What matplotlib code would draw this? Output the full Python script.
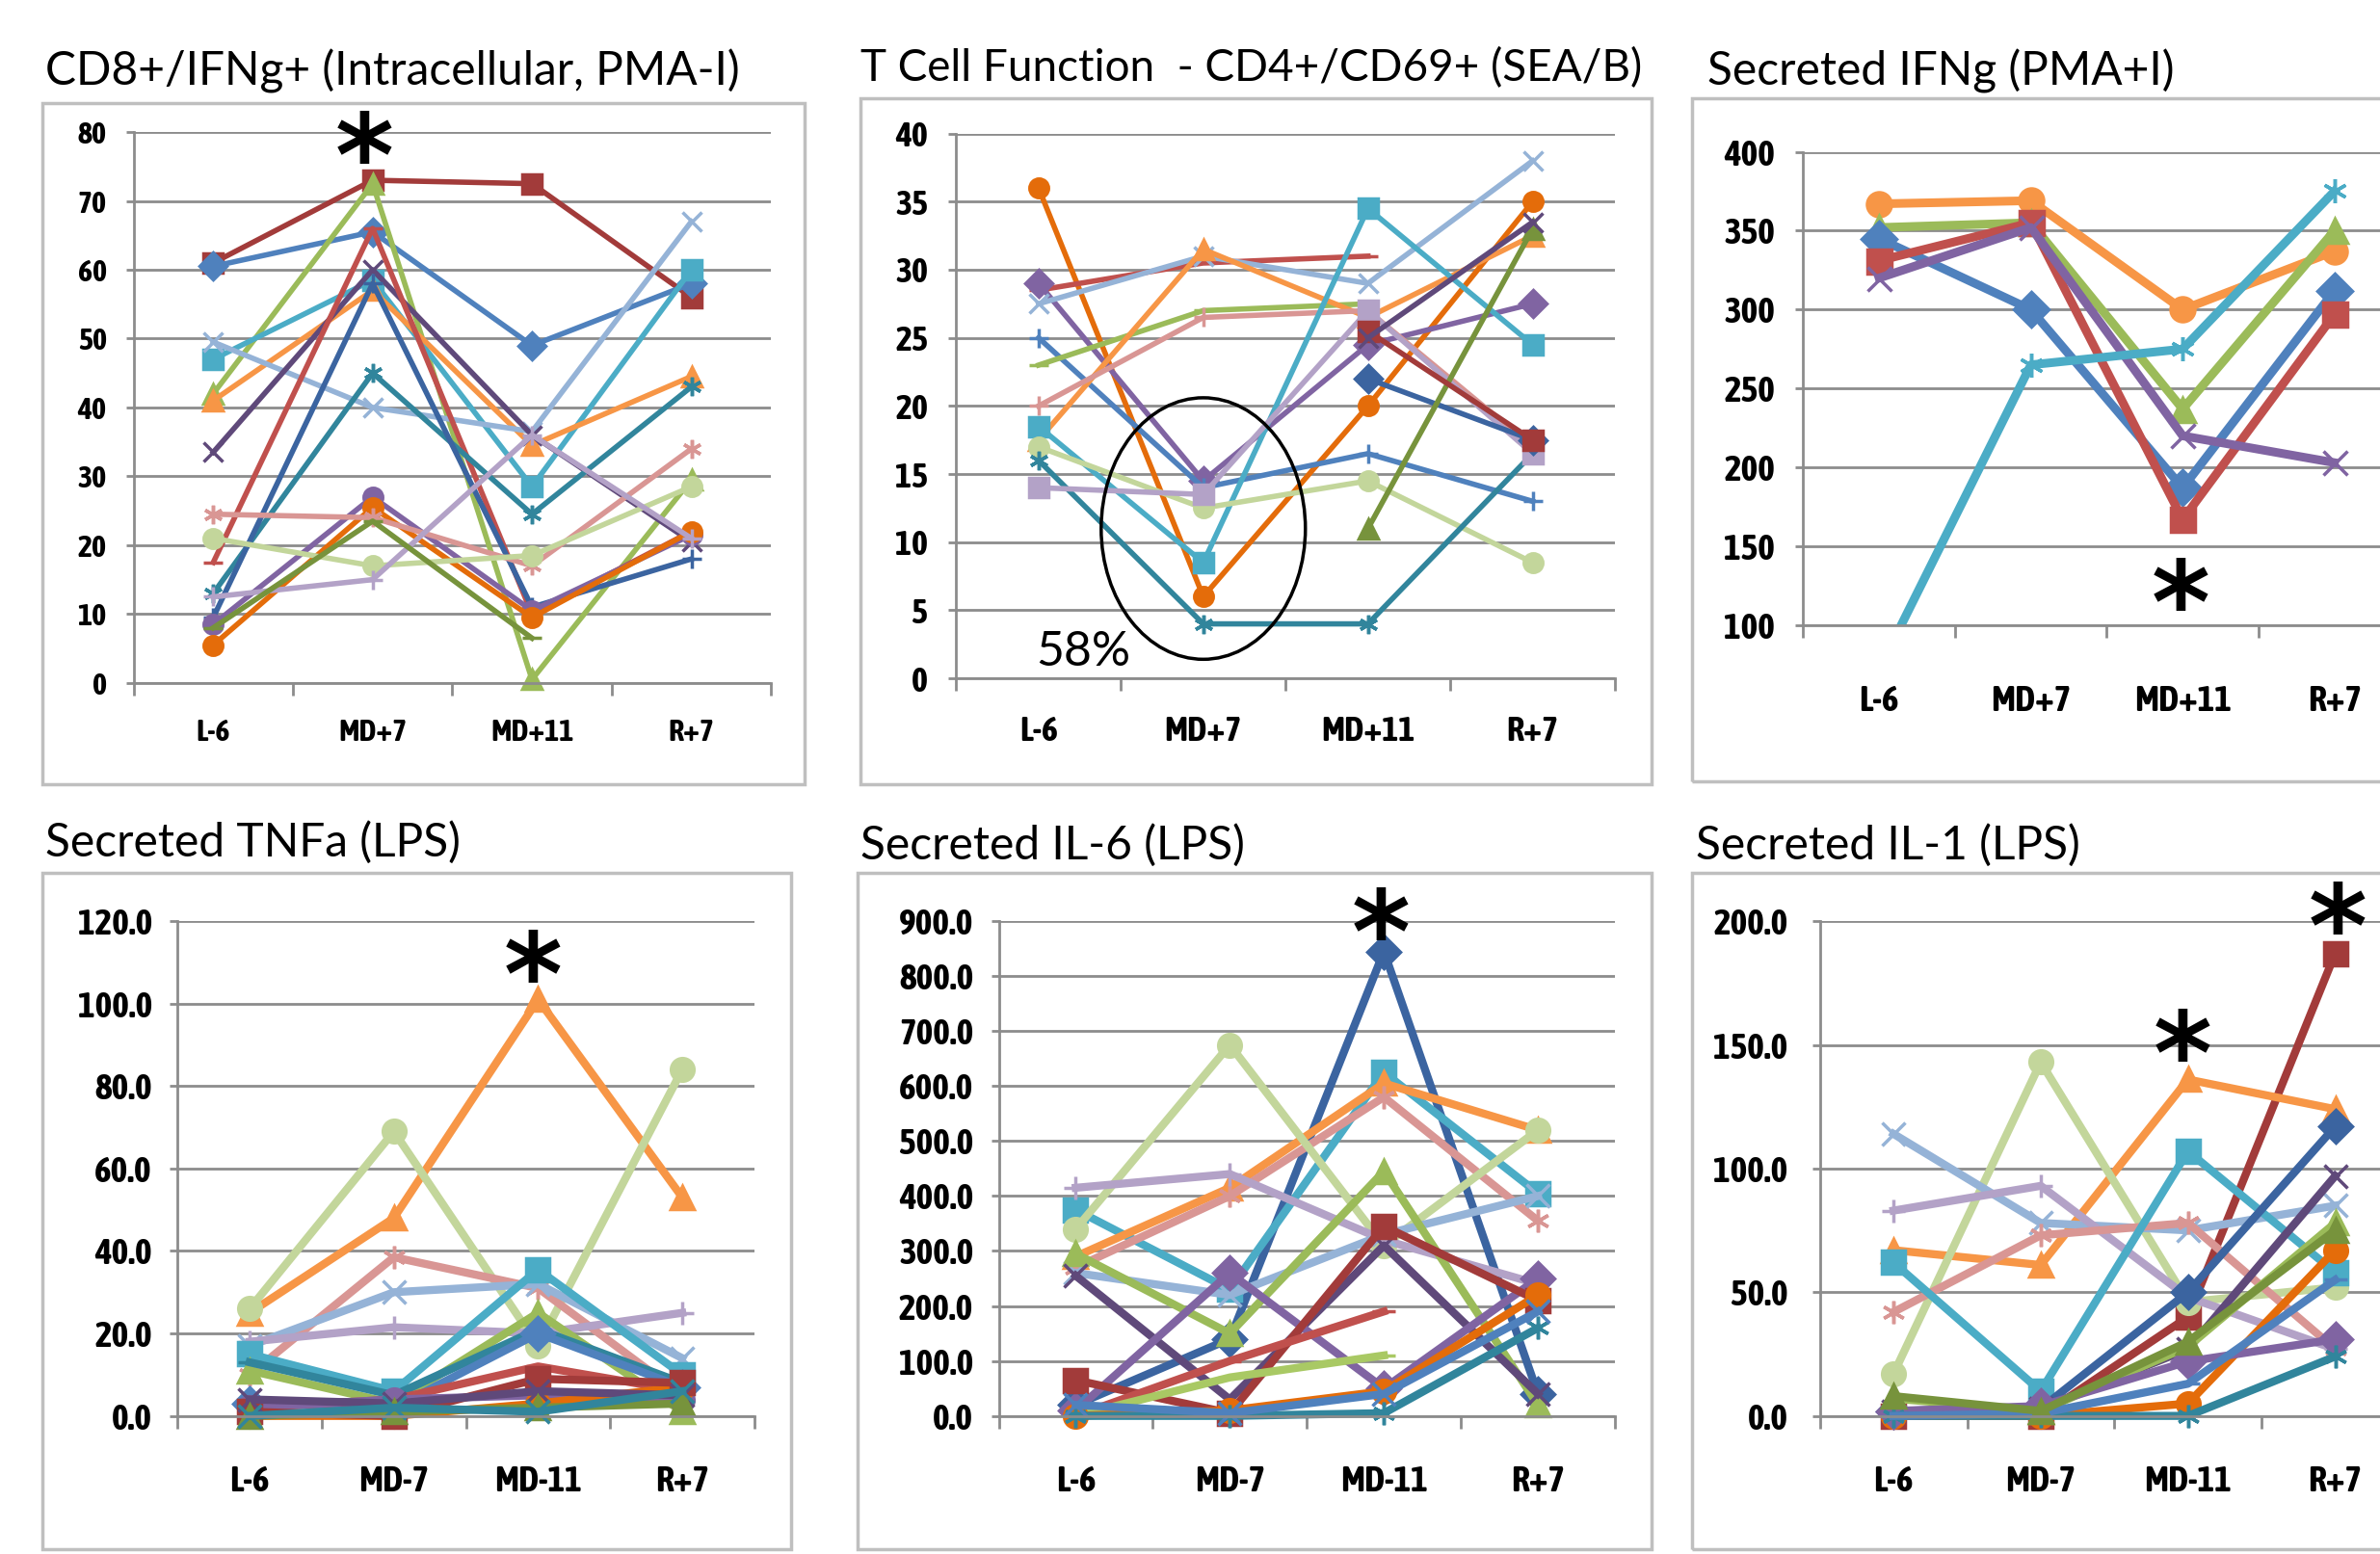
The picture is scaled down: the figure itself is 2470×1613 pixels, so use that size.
import numpy as np
import matplotlib
matplotlib.use('Agg')
import matplotlib.pyplot as plt
from matplotlib.patches import Rectangle, Ellipse

# categories
cats_top = ['L-6', 'MD+7', 'MD+11', 'R+7']
cats_bot = ['L-6', 'MD-7', 'MD-11', 'R+7']

# colours (Excel 2007 palette and its dark / light variants)
blue, red, green, purple, aqua, orange = '#4F81BD', '#C0504D', '#9BBB59', '#8064A2', '#4BACC6', '#F79646'
dblue, dred, dgreen, dpurple, teal, dorange = '#3B64A0', '#A23B3A', '#77933C', '#5F497A', '#31859C', '#E46C0A'
lblue, lred, lgreen, lpurple = '#95B3D7', '#D99694', '#C3D69B', '#B3A2C7'
star = (6, 2, 0)

# --- CD8+/IFNg+ (Intracellular, PMA-I)
cd8_vals = [
    [61, 73, 72.5, 56],
    [60.5, 65.5, 49, 58],
    [42, 72.5, 0.5, 29.5],
    [47, 58.5, 28.5, 60],
    [41, 57, 34.5, 44.5],
    [49.5, 40, 36.5, 67],
    [33.5, 60, 36, 20.5],
    [17.5, 66, 10, 22],
    [13, 45, 24.5, 43],
    [9.5, 58, 11, 18],
    [8.5, 27, 10.5, 21.5],
    [5.5, 25.5, 9.5, 22],
    [24.5, 24, 17, 34],
    [21, 17, 18.5, 28.5],
    [12.5, 15, 36, 21],
    [8, 23.5, 6.5, None],
]
cd8_styles = [(dred, 's'), (blue, 'D'), (green, '^'), (aqua, 's'), (orange, '^'), (lblue, 'x'),
              (dpurple, 'x'), (red, '_'), (teal, star), (dblue, '+'), (purple, 'o'), (dorange, 'o'),
              (lred, star), (lgreen, 'o'), (lpurple, '+'), (dgreen, '_')]

# --- T Cell Function - CD4+/CD69+ (SEA/B)
cd4_vals = [
    [36, 6, 20, 35],
    [28.5, 30.5, 31, None],
    [29, 14.5, 24.5, 27.5],
    [27.5, 31, 29, 38],
    [25, 14, 16.5, 13],
    [23, 27, 27.5, None],
    [17.5, 31.5, 26.5, 32.5],
    [20, 26.5, 27, 17],
    [18.5, 8.5, 34.5, 24.5],
    [17, 12.5, 14.5, 8.5],
    [16, 4, 4, 16.5],
    [14, 13.5, 27, 16.5],
    [None, None, 22, 17.5],
    [None, None, 11, 33],
    [None, None, 25.5, 17.5],
    [None, None, 25, 33.5],
]
cd4_styles = [(dorange, 'o'), (red, '_'), (purple, 'D'), (lblue, 'x'), (blue, '+'), (green, '_'),
              (orange, '^'), (lred, '+'), (aqua, 's'), (lgreen, 'o'), (teal, star), (lpurple, 's'),
              (dblue, 'D'), (dgreen, '^'), (dred, 's'), (dpurple, 'x')]

# --- Secreted IFNg (PMA+I)
ifng_vals = [
    [367, 369, 300, 337],
    [352, 355, 237, 350],
    [345, 300, 187, 312],
    [331, 355, 167, 297],
    [320, 352, 220, 203],
    [72, 265, 275, 375],
]
ifng_styles = [(orange, 'o'), (green, '^'), (blue, 'D'), (red, 's'), (purple, 'x'), (aqua, star)]

# --- Secreted TNFa (LPS)
tnf_vals = [
    [25, 48, 101, 53],
    [26, 69, 17, 84],
    [10, 38.5, 31, 5],
    [17, 30, 32, 14],
    [18, 21.5, 20, 25],
    [15, 6, 35.5, 10],
    [11, 3, 25, 1],
    [13, 5, 21, 8],
    [3, 2, 20, 7],
    [2, 4, 12, 6],
    [2, 4, 5, 4],
    [0, 0, 3, 7],
    [1, 0, 9, 8],
    [4, 3, 6, 5],
    [0, 1, 2, 3],
    [0, 2, 1, 6],
]
tnf_styles = [(orange, '^'), (lgreen, 'o'), (lred, star), (lblue, 'x'), (lpurple, '+'), (aqua, 's'),
              (green, '^'), (teal, '_'), (blue, 'D'), (red, '_'), (purple, 'o'), (dorange, 'o'),
              (dred, 's'), (dpurple, 'x'), (dgreen, '^'), (teal, 'x')]

# --- Secreted IL-6 (LPS)
il6_vals = [
    [20, 140, 845, 40],
    [375, 230, 625, 405],
    [290, 415, 605, 520],
    [270, 400, 580, 355],
    [340, 675, 310, 520],
    [415, 440, 320, 240],
    [260, 220, 330, 400],
    [295, 150, 445, 20],
    [255, 30, 310, 40],
    [10, 260, 50, 250],
    [65, 5, 345, 210],
    [0, 100, 190, None],
    [0, 70, 110, None],
    [0, 10, 45, 220],
    [0, 0, 5, 160],
    [20, 5, 40, 190],
]
il6_styles = [(dblue, 'D'), (aqua, 's'), (orange, '^'), (lred, star), (lgreen, 'o'), (lpurple, '+'),
              (lblue, 'x'), (green, '^'), (dpurple, 'x'), (purple, 'D'), (dred, 's'), (red, '_'),
              ('#A9C964', '_'), (dorange, 'o'), (teal, star), (blue, 'x')]

# --- Secreted IL-1 (LPS)
il1_vals = [
    [0, 0, 40, 187],
    [67, 61, 136, 124],
    [17, 143, 46, 52],
    [114, 78, 75, 85],
    [83, 93, 48, 27],
    [42, 73, 78, 27],
    [62, 10, 107, 58],
    [2, 3, 50, 117],
    [2, 3, 27, 97],
    [7, 2, 28, 78],
    [0, 0, 5, 67],
    [2, 4, 22, 31],
    [0, 0, 0, 24],
    [0, 1, 13, 55],
    [8, 2, 30, 75],
]
il1_styles = [(dred, 's'), (orange, '^'), (lgreen, 'o'), (lblue, 'x'), (lpurple, '+'), (lred, star),
              (aqua, 's'), (dblue, 'D'), (dpurple, 'x'), (green, '^'), (dorange, 'o'), (purple, 'D'),
              (teal, star), (blue, '_'), (dgreen, '^')]

W, H = 1568.0, 1024.0
GRID = '#8C8C8C'
TICKFONT = ['Asap Condensed', 'Archivo Narrow', 'DejaVu Sans']
TITLEFONT = ['Lato', 'DejaVu Sans']

fig = plt.figure(figsize=(24.7, 16.13), dpi=100)
fig.patch.set_facecolor('white')


def frame(x0, x1, y0, y1):
    fig.patches.append(Rectangle((x0 / W, 1 - y1 / H), (x1 - x0) / W, (y1 - y0) / H,
                                 transform=fig.transFigure, fill=False,
                                 edgecolor='#BFBFBF', lw=2.5))


def title(x, y, s, size=34.5):
    fig.text(x / W, 1 - y / H, s, ha='left', va='center', fontsize=size, family=TITLEFONT)


def asterisk(x, y, size=84):
    off = 0.55 * size * (100 / 72) / 1.575
    fig.text(x / W, 1 - (y + off) / H, '*', ha='center', va='baseline',
             fontsize=size, fontweight='bold', family='DejaVu Sans')


def panel(rect, cats, vals, styles, ylim, yticks, yfmt, lw, ms, fs, xpad, ypad, clip=False):
    x0, x1, ytop, ybot = rect
    ax = fig.add_axes([x0 / W, 1 - ybot / H, (x1 - x0) / W, (ybot - ytop) / H])
    ax.set_xlim(-0.5, 3.5)
    ax.set_ylim(*ylim)
    ax.set_facecolor('none')
    ax.set_axisbelow(True)
    ax.yaxis.grid(True, color=GRID, lw=2)
    for side in ['top', 'right']:
        ax.spines[side].set_visible(False)
    for side in ['left', 'bottom']:
        ax.spines[side].set_color(GRID)
        ax.spines[side].set_linewidth(2)
    ax.set_xticks(range(4))
    ax.set_xticklabels(cats)
    ax.set_xticks([-0.5, 0.5, 1.5, 2.5, 3.5], minor=True)
    ax.set_yticks(yticks)
    ax.set_yticklabels([yfmt % v for v in yticks])
    ax.tick_params(axis='x', which='major', length=0, pad=xpad, labelsize=fs)
    ax.tick_params(axis='x', which='minor', length=9, width=2, color=GRID)
    ax.tick_params(axis='y', length=6, width=2, color=GRID, pad=ypad, labelsize=fs)
    for lab in ax.get_xticklabels() + ax.get_yticklabels():
        lab.set_family(TICKFONT)
        lab.set_fontweight('bold')
    x = np.arange(4)
    for v, (col, mk) in zip(vals, styles):
        ax.plot(x, np.array(v, dtype=float), color=col, lw=lw, marker=mk, ms=ms,
                mfc=col, mec=col, mew=2.5, clip_on=clip, solid_joinstyle='round')
    return ax


# frames
frame(28, 530, 68, 517)
frame(567, 1088, 65, 517)
frame(1115, 1580, 65, 515)
frame(28, 521, 575, 1021)
frame(565, 1088, 575, 1021)
frame(1115, 1580, 575, 1021)

# top row
panel((88, 508, 87, 450), cats_top, cd8_vals, cd8_styles, (0, 80), range(0, 81, 10), '%d',
      4, 14, 23, 26, 14)
ax2 = panel((630, 1064, 88, 447), cats_top, cd4_vals, cd4_styles, (0, 40), range(0, 41, 5), '%d',
            4, 14, 26, 27, 15)
panel((1188, 1588, 100, 412), cats_top, ifng_vals, ifng_styles, (100, 400), range(100, 401, 50), '%d',
      6.5, 18, 27, 44, 15, clip=True)

# bottom row
panel((117, 497, 607, 933), cats_bot, tnf_vals, tnf_styles, (0, 120), range(0, 121, 20), '%.1f',
      6, 17, 27, 36, 13)
panel((658, 1064, 607, 933), cats_bot, il6_vals, il6_styles, (0, 900), range(0, 901, 100), '%.1f',
      6, 17, 27, 36, 13)
panel((1199, 1587, 607, 933), cats_bot, il1_vals, il1_styles, (0, 200), range(0, 201, 50), '%.1f',
      6, 17, 27, 36, 18)

# ellipse and percentage in the CD4 panel
ax2.add_patch(Ellipse((1.0, 11.0), 1.24, 19.2, fill=False, edgecolor='black', lw=2.5,
                      clip_on=False, zorder=5))
ax2.text(0.27, 1.9, '58%', ha='center', va='center', fontsize=36, family=TITLEFONT)

# titles
title(30, 47, 'CD8+/IFNg+ (Intracellular, PMA-I)')
title(567, 45, 'T Cell Function  - CD4+/CD69+ (SEA/B)', 33)
title(1125, 47, 'Secreted IFNg (PMA+I)')
title(30, 555, 'Secreted TNFa (LPS)')
title(567, 557, 'Secreted IL-6 (LPS)')
title(1117, 557, 'Secreted IL-1 (LPS)')

# significance marks
asterisk(240, 88)
asterisk(1437, 383)
asterisk(351, 628)
asterisk(910, 600)
asterisk(1438, 680)
asterisk(1540, 596)

fig.savefig('out.png', dpi=100, facecolor='white')
